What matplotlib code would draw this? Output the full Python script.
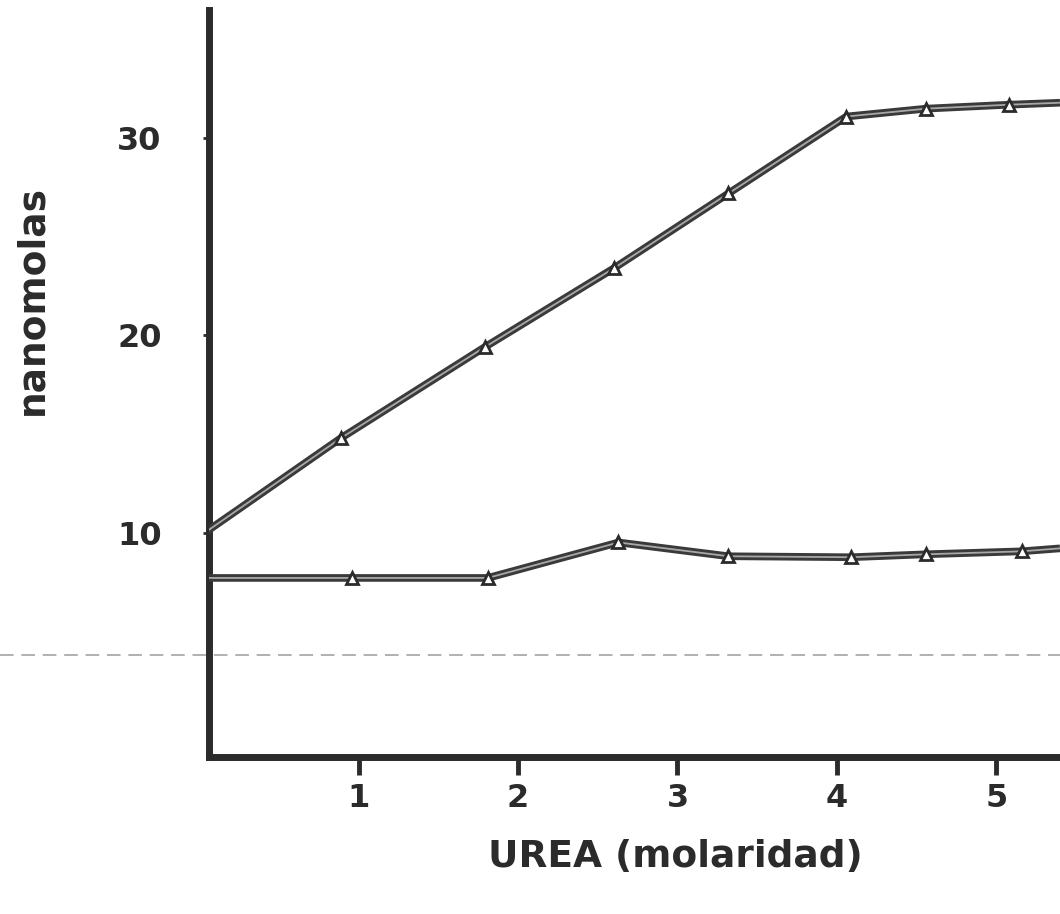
import numpy as np
import matplotlib
matplotlib.use('Agg')
import matplotlib.pyplot as plt
import matplotlib.transforms as mtransforms

# urea concentration (molar) and nanomoles measured for each curve
urea_upper = [0.0, 0.89, 1.79, 2.60, 3.32, 4.06, 4.56, 5.08, 5.40]
nmol_upper = [9.8, 14.8, 19.4, 23.4, 27.2, 31.1, 31.5, 31.7, 31.8]

urea_lower = [0.0, 0.96, 1.81, 2.63, 3.32, 4.09, 4.56, 5.16, 5.40]
nmol_lower = [7.7, 7.7, 7.7, 9.5, 8.8, 8.75, 8.9, 9.05, 9.2]

x_ticks = [1, 2, 3, 4, 5]
y_ticks = [10, 20, 30]

ink = '#2b2b2b'

fig = plt.figure(figsize=(10.6, 9.14), dpi=100)
ax = fig.add_axes([0.197, 0.172, 0.803, 0.817])


def hollow_line(x, y):
    # drawn like an ink pen trace: dark border with a pale centre
    ax.plot(x, y, color='#3a3a3a', lw=5.5, solid_capstyle='butt', zorder=3)
    ax.plot(x, y, color='#a8a8a8', lw=1.3, zorder=4)
    ax.plot(x[1:-1], y[1:-1], ls='none', marker='^', ms=9,
            mfc='white', mec=ink, mew=2, zorder=5)


hollow_line(urea_upper, nmol_upper)
hollow_line(urea_lower, nmol_lower)

# faint dashed trace running across the page
trans = mtransforms.blended_transform_factory(fig.transFigure, ax.transData)
ax.plot([0, 1], [3.8, 3.8], transform=trans, color='#b0b0b0', lw=1.4,
        ls=(0, (7, 4)), clip_on=False, zorder=1)

ax.set_xlim(0.06, 5.40)
ax.set_ylim(-1.37, 36.5)

for side in ['top', 'right']:
    ax.spines[side].set_visible(False)
for side in ['left', 'bottom']:
    ax.spines[side].set_linewidth(5)
    ax.spines[side].set_color(ink)

ax.set_xticks(x_ticks)
ax.set_yticks(y_ticks)
ax.set_xticklabels([str(t) for t in x_ticks], fontsize=23, fontweight='bold',
                   color=ink)
ax.set_yticklabels([str(t) for t in y_ticks], fontsize=23, fontweight='bold',
                   color=ink)
ax.tick_params(axis='x', direction='out', length=13, width=3.5, pad=6,
               color=ink)
ax.tick_params(axis='y', direction='out', length=4, width=2, pad=30,
               color=ink)

ax.set_xlabel('UREA (molaridad)', fontsize=27, fontweight='bold', color=ink)
ax.xaxis.set_label_coords(0.548, -0.134)
ax.xaxis.label.set_verticalalignment('center')

ax.set_ylabel('nanomolas', fontsize=27, fontweight='bold', color=ink)
ax.yaxis.set_label_coords(-0.207, 0.612)
ax.yaxis.label.set_verticalalignment('center')

fig.savefig('out.png', dpi=100)
